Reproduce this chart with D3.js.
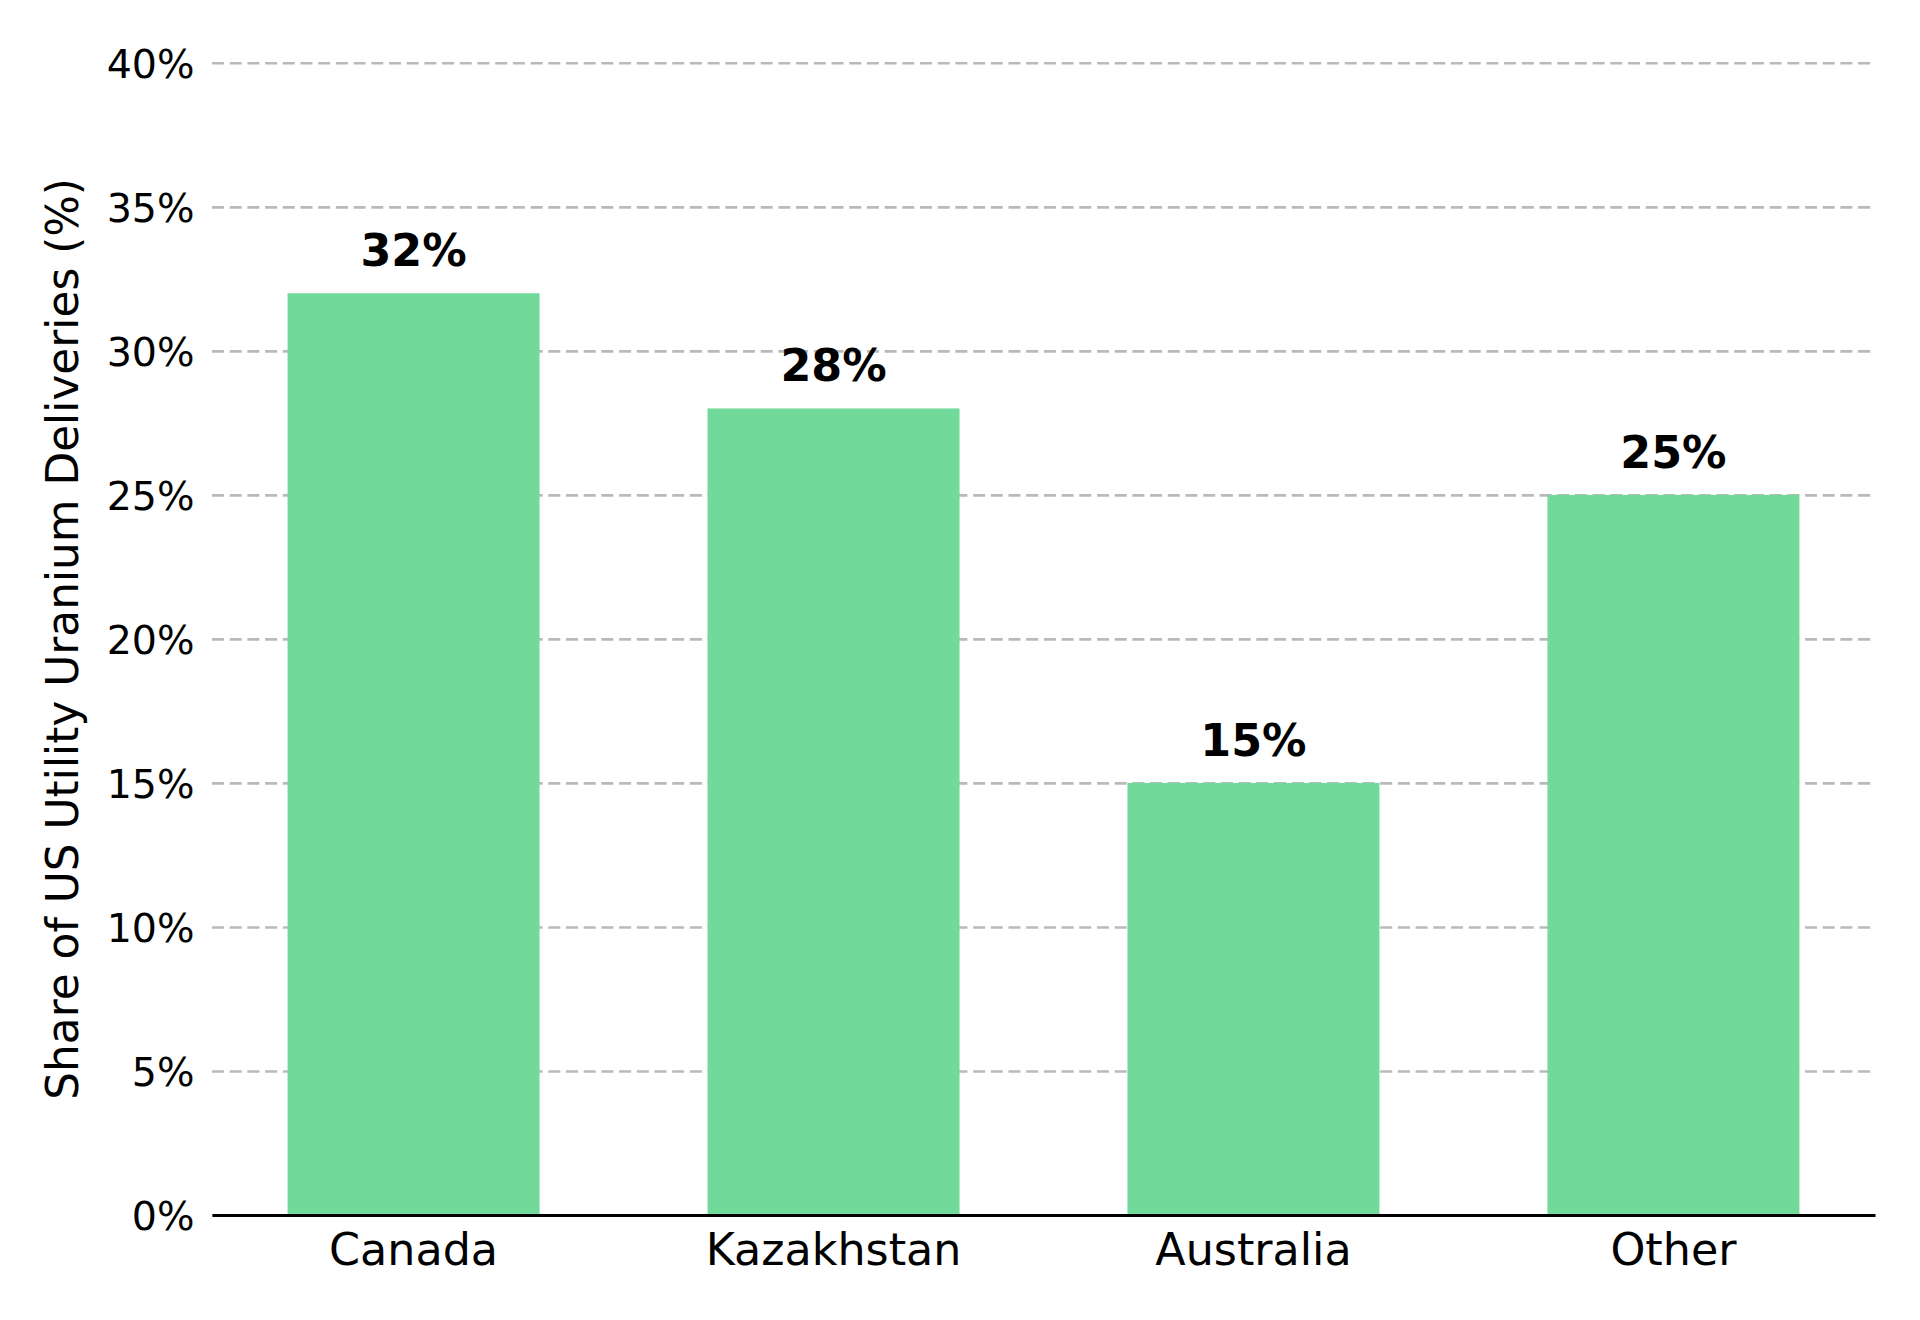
<!DOCTYPE html>
<html>
<head>
<meta charset="utf-8">
<script src="https://cdn.jsdelivr.net/npm/d3@7"></script>
<style>
  body { margin: 0; background: #fff; }
  svg { font-family: "DejaVu Sans", sans-serif; }
</style>
</head>
<body>
<script>
// chart values
const categories = ['Canada', 'Kazakhstan', 'Australia', 'Other']
const shares = [32, 28, 15, 25]
const yTicks = [0, 5, 10, 15, 20, 25, 30, 35, 40]
const yLabel = 'Share of US Utility Uranium Deliveries (%)'

const measurements = {
    width: 1920,
    height: 1320,
    left: 212,
    right: 1875,
    top: 62.8,
    bottom: 1215
}

const svg = d3.select('body').append('svg')
    .attr('width', measurements.width)
    .attr('height', measurements.height)

const x = d3.scaleBand()
    .domain(categories)
    .range([measurements.left, measurements.right])
    .paddingInner(0.4)
    .paddingOuter(0.18)

const y = d3.scaleLinear()
    .domain([0, 40])
    .range([measurements.bottom, measurements.top])

// dashed gridlines
const grid = svg.append('g')
    .attr('transform', `translate(${measurements.left},0)`)
    .call(d3.axisLeft(y)
        .tickValues(yTicks)
        .tickSize(-(measurements.right - measurements.left))
        .tickFormat(''))
grid.select('.domain').remove()
grid.selectAll('line')
    .attr('stroke', '#bababa')
    .attr('stroke-width', 2.6)
    .attr('stroke-dasharray', '12,5.7')

// bars
svg.append('g')
    .selectAll('rect')
    .data(shares)
    .enter()
    .append('rect')
    .attr('x', (d, i) => x(categories[i]))
    .attr('y', d => y(d))
    .attr('width', x.bandwidth())
    .attr('height', d => y(0) - y(d))
    .attr('fill', '#71d999')

// value labels
svg.append('g')
    .selectAll('text')
    .data(shares)
    .enter()
    .append('text')
    .attr('x', (d, i) => x(categories[i]) + x.bandwidth() / 2)
    .attr('y', d => y(d) - 27)
    .attr('text-anchor', 'middle')
    .attr('font-size', 44.4)
    .attr('font-weight', 'bold')
    .attr('fill', '#000')
    .text(d => d + '%')

// y tick labels
const yAxis = svg.append('g')
    .attr('transform', `translate(${measurements.left},0)`)
    .call(d3.axisLeft(y)
        .tickValues(yTicks)
        .tickSize(0)
        .tickPadding(17.5)
        .tickFormat(d => d + '%'))
yAxis.select('.domain').remove()
yAxis.selectAll('text')
    .attr('font-size', 39.5)
    .attr('font-family', '"DejaVu Sans", sans-serif')
    .attr('fill', '#000')
    .attr('dy', '0.364em')

// x axis
const xAxis = svg.append('g')
    .attr('transform', `translate(0,${measurements.bottom})`)
    .call(d3.axisBottom(x).tickSize(0).tickPadding(18.8))
xAxis.select('.domain')
    .attr('stroke', '#000')
    .attr('stroke-width', 2.8)
xAxis.selectAll('text')
    .attr('font-size', 44.4)
    .attr('font-family', '"DejaVu Sans", sans-serif')
    .attr('fill', '#000')

// y axis title
svg.append('text')
    .attr('transform', `translate(78,${(measurements.top + measurements.bottom) / 2}) rotate(-90)`)
    .attr('text-anchor', 'middle')
    .attr('font-size', 43.8)
    .attr('fill', '#000')
    .text(yLabel)
</script>
</body>
</html>
